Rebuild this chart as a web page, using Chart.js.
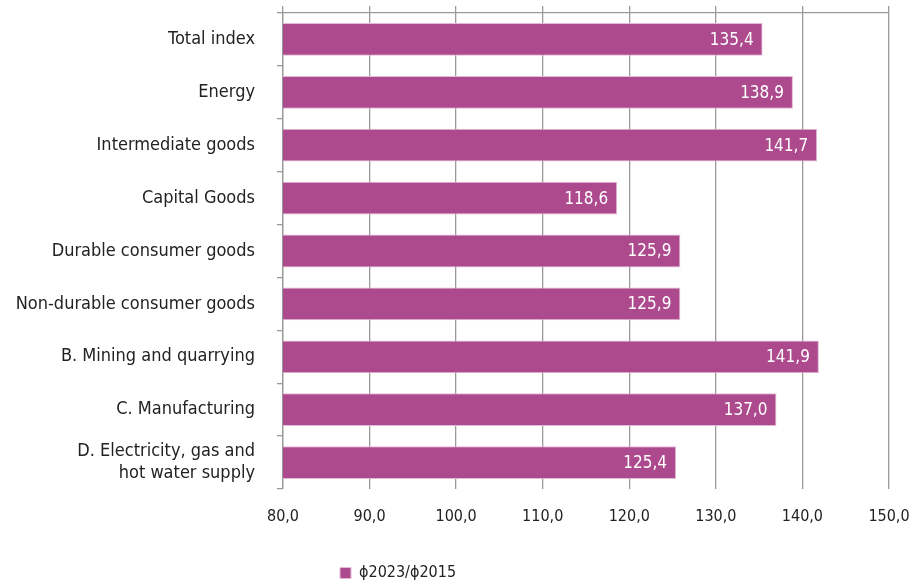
<!DOCTYPE html>
<html>
<head>
<meta charset="utf-8">
<script src="https://cdn.jsdelivr.net/npm/chart.js@4.4.1/dist/chart.umd.min.js"></script>
<style>
  html, body { margin: 0; padding: 0; background: #fff; }
  #wrap { width: 911px; height: 585px; position: relative; }
</style>
</head>
<body>
<div id="wrap"><canvas id="c" width="911" height="585"></canvas></div>
<script>
const categories = [
  "Total index",
  "Energy",
  "Intermediate goods",
  "Capital Goods",
  "Durable consumer goods",
  "Non-durable consumer goods",
  "B. Mining and quarrying",
  "C. Manufacturing",
  ["D. Electricity, gas and", "hot water supply"]
];
const values = [135.4, 138.9, 141.7, 118.6, 125.9, 125.9, 141.9, 137.0, 125.4];
const seriesName = "\u03d52023/\u03d52015";
const xTicks = [80, 90, 100, 110, 120, 130, 140, 150];

const FONT = "'DejaVu Sans Condensed', 'Liberation Sans Narrow', sans-serif";
const BAR = '#ad4a8e';
const GRID = '#9a9a9a';

const fmt = v => v.toFixed(1).replace('.', ',');

const valueLabels = {
  id: 'valueLabels',
  afterDatasetsDraw(chart) {
    const ctx = chart.ctx;
    const meta = chart.getDatasetMeta(0);
    ctx.save();
    ctx.fillStyle = '#ffffff';
    ctx.font = '17px ' + FONT;
    ctx.textAlign = 'right';
    ctx.textBaseline = 'middle';
    meta.data.forEach((el, i) => {
      ctx.fillText(fmt(values[i]), el.x - 9, el.y + 1);
    });
    ctx.restore();
  }
};

const legendShift = {
  id: 'legendShift',
  afterLayout(chart) {
    const l = chart.legend;
    const dx = 340 - (l.left + 10);
    l.left += dx; l.right += dx;
    const dy = 6;
    l.top += dy; l.bottom += dy;
  }
};

new Chart(document.getElementById('c'), {
  type: 'bar',
  data: {
    labels: categories,
    datasets: [{
      label: seriesName,
      data: values,
      backgroundColor: BAR,
      borderColor: '#e2b9d6',
      borderWidth: 1,
      borderSkipped: false,
      barPercentage: 0.62,
      categoryPercentage: 1.0
    }]
  },
  options: {
    indexAxis: 'y',
    responsive: false,
    animation: false,
    layout: { padding: { left: 0, right: 22, top: 6, bottom: 0 } },
    plugins: {
      legend: {
        position: 'bottom',
        align: 'start',
        fullSize: true,
        labels: {
          boxWidth: 11,
          boxHeight: 11,
          padding: 10,
          color: '#222',
          font: { family: FONT, size: 16 }
        }
      },
      tooltip: { enabled: false }
    },
    scales: {
      x: {
        type: 'linear',
        position: 'bottom',
        min: 80,
        max: 150,
        afterBuildTicks(axis) { axis.ticks = xTicks.map(v => ({ value: v })); },
        afterFit(axis) { axis.height = 60; axis.paddingLeft = 0; axis.paddingRight = 0; },
        ticks: {
          color: '#222',
          padding: 18,
          maxRotation: 0,
          font: { family: FONT, size: 16 },
          callback: v => fmt(v)
        },
        grid: { color: GRID, lineWidth: 1.3, drawTicks: false },
        border: { display: false }
      },
      x2: {
        type: 'linear',
        position: 'top',
        min: 80,
        max: 150,
        afterBuildTicks(axis) { axis.ticks = xTicks.map(v => ({ value: v })); },
        afterFit(axis) { axis.height = 7; axis.paddingLeft = 0; axis.paddingRight = 0; },
        ticks: { display: false },
        grid: { color: GRID, lineWidth: 1.3, drawOnChartArea: false, tickLength: 7 },
        border: { display: true, color: GRID, width: 1.3 }
      },
      y: {
        type: 'category',
        offset: true,
        afterFit(axis) { axis.width = 283; axis.paddingTop = 0; axis.paddingBottom = 0; },
        ticks: {
          color: '#222',
          padding: 22,
          autoSkip: false,
          font: { family: FONT, size: 18 }
        },
        grid: { offset: true, drawOnChartArea: false, color: GRID, lineWidth: 1.3, tickLength: 6 },
        border: { display: true, color: GRID, width: 1.3 }
      }
    }
  },
  plugins: [valueLabels, legendShift]
});
</script>
</body>
</html>
